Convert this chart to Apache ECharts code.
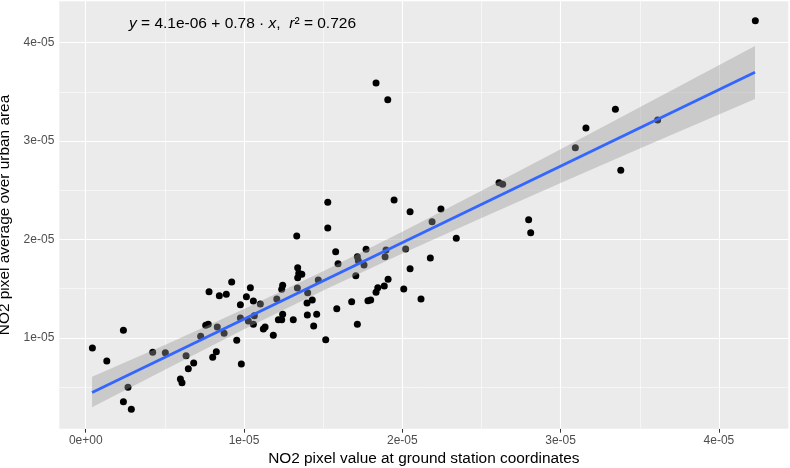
<!DOCTYPE html>
<html>
<head>
<meta charset="utf-8">
<script src="https://cdn.jsdelivr.net/npm/echarts@6/dist/echarts.min.js"></script>
<style>
  html, body { margin: 0; padding: 0; background: #fff; }
  #chart { width: 790px; height: 468px; }
</style>
</head>
<body>
<div id="chart"></div>
<script>
// every value below is in units of 1e-05
const stationNO2 = [
  0.042, 0.133, 0.238, 0.267, 0.238, 0.288, 0.423, 0.503, 0.598, 0.608,
  0.634, 0.648, 0.682, 0.726, 0.758, 0.774, 0.779, 0.802, 0.825, 0.831,
  0.844, 0.874, 0.888, 0.922, 0.954, 0.977, 0.977, 0.983, 1.015, 1.027,
  1.040, 1.059, 1.059, 1.065, 1.103, 1.122, 1.133, 1.185, 1.207, 1.217,
  1.238, 1.244, 1.238, 1.244, 1.311, 1.333, 1.339, 1.339, 1.346, 1.365,
  1.337, 1.398, 1.402, 1.400, 1.431, 1.440, 1.459, 1.469, 1.516, 1.529,
  1.579, 1.586, 1.594, 1.680, 1.706, 1.716, 1.716, 1.722, 1.758, 1.771,
  1.783, 1.800, 1.834, 1.845, 1.886, 1.891, 1.897, 1.910, 1.948, 2.049,
  2.244, 2.188, 2.341, 2.021, 2.177, 2.049, 2.009, 2.118, 1.834, 1.908,
  1.529, 4.230, 3.346, 3.160, 3.093, 3.613, 3.380, 2.611, 2.634, 2.798,
  2.811
];
const urbanNO2 = [
  0.898, 0.766, 1.078, 0.499, 0.353, 0.275, 0.854, 0.850, 0.583, 0.546,
  0.820, 0.688, 0.746, 1.017, 1.129, 1.139, 1.470, 0.804, 0.861, 1.111,
  1.429, 1.047, 1.444, 1.569, 0.976, 1.338, 1.203, 0.736, 1.419, 1.172,
  1.511, 1.139, 1.376, 1.226, 1.345, 1.091, 1.111, 1.027, 1.396, 1.186,
  1.186, 1.240, 1.494, 1.535, 1.186, 2.036, 1.612, 1.714, 1.657, 1.647,
  1.508, 1.355, 1.460, 1.233, 1.386, 1.122, 1.240, 1.589, 0.982, 2.117,
  1.876, 1.297, 1.755, 1.368, 1.633, 1.139, 1.826, 1.785, 1.741, 1.901,
  1.379, 1.386, 1.464, 1.511, 1.528, 1.826, 1.894, 1.596, 2.402, 2.283,
  2.310, 2.181, 2.013, 1.904, 1.812, 1.704, 1.498, 1.396, 3.590, 3.421,
  2.378, 4.223, 3.323, 3.133, 2.933, 3.214, 2.703, 2.577, 2.561, 2.202,
  2.069
];

// fitted line end points and its confidence band
const fitX = [0.04, 4.228];
const fitY = [0.445, 3.70];
const bandX = [0.04, 0.5, 1.0, 1.5, 2.0, 2.5, 3.0, 3.5, 4.228];
const bandLow = [0.296, 0.676, 1.088, 1.482, 1.857, 2.219, 2.573, 2.924, 3.428];
const bandHigh = [0.607, 0.928, 1.294, 1.678, 2.079, 2.495, 2.917, 3.344, 3.966];

const xTicks = [0, 1, 2, 3, 4];
const yTicks = [1, 2, 3, 4];
const xMinor = [0.5, 1.5, 2.5, 3.5];
const yMinor = [0.5, 1.5, 2.5, 3.5];

const FONT = 'Liberation Sans, Arial, sans-serif';

function tickLabel(v) {
  return v === 0 ? '0e+00' : v + 'e-05';
}

function gridLines() {
  const major = { color: '#ffffff', width: 1.1, type: 'solid' };
  const minor = { color: '#ffffff', width: 0.55, type: 'solid' };
  return [
    ...xMinor.map((v) => ({ xAxis: v, lineStyle: minor })),
    ...yMinor.map((v) => ({ yAxis: v, lineStyle: minor })),
    ...xTicks.map((v) => ({ xAxis: v, lineStyle: major })),
    ...yTicks.map((v) => ({ yAxis: v, lineStyle: major })),
  ];
}

const chart = echarts.init(document.getElementById('chart'));

chart.setOption({
  animation: false,
  backgroundColor: '#ffffff',
  textStyle: { fontFamily: FONT },
  title: {
    left: 129,
    top: 16,
    padding: 0,
    text: '{i|y} = 4.1e-06 + 0.78 · {i|x},  {i|r}² = 0.726',
    textStyle: {
      fontFamily: FONT,
      fontSize: 15.5,
      fontWeight: 'normal',
      color: '#000',
      rich: {
        i: { fontFamily: FONT, fontSize: 15.5, fontStyle: 'italic', color: '#000' },
      },
    },
  },
  grid: {
    left: 59.3,
    right: 1.6,
    top: 1.3,
    bottom: 39.3,
    outerBoundsMode: 'none',
    containLabel: false,
    show: true,
    backgroundColor: '#EBEBEB',
    borderWidth: 0,
  },
  xAxis: {
    type: 'value',
    min: -0.167,
    max: 4.439,
    name: 'NO2 pixel value at ground station coordinates',
    nameLocation: 'middle',
    nameGap: 23,
    nameTextStyle: { fontFamily: FONT, fontSize: 15.4, color: '#000' },
    axisLine: { show: false },
    axisTick: { show: true, customValues: xTicks, length: 4, lineStyle: { color: '#333', width: 1 } },
    axisLabel: { customValues: xTicks, formatter: tickLabel, color: '#4D4D4D', fontSize: 12, margin: 6 },
    splitLine: { show: false },
  },
  yAxis: {
    type: 'value',
    min: 0.078,
    max: 4.42,
    name: 'NO2 pixel average over urban area',
    nameLocation: 'middle',
    nameGap: 43,
    nameTextStyle: { fontFamily: FONT, fontSize: 15.4, color: '#000' },
    axisLine: { show: false },
    axisTick: { show: true, customValues: yTicks, length: 4, lineStyle: { color: '#333', width: 1 } },
    axisLabel: { customValues: yTicks, formatter: tickLabel, color: '#4D4D4D', fontSize: 12, margin: 5 },
    splitLine: { show: false },
  },
  series: [
    {
      name: 'grid',
      type: 'scatter',
      data: [],
      z: 1,
      silent: true,
      markLine: {
        z: 1,
        silent: true,
        symbol: 'none',
        label: { show: false },
        emphasis: { disabled: true },
        data: gridLines(),
      },
    },
    {
      name: 'points',
      type: 'scatter',
      z: 2,
      symbol: 'circle',
      symbolSize: 7,
      itemStyle: { color: '#000000', opacity: 1 },
      data: stationNO2.map((x, i) => [x, urbanNO2[i]]),
    },
    {
      name: 'band',
      type: 'custom',
      z: 3,
      silent: true,
      data: [[bandX[0], bandLow[0]]],
      renderItem: (params, api) => {
        const upper = bandX.map((x, i) => api.coord([x, bandHigh[i]]));
        const lower = bandX.map((x, i) => api.coord([x, bandLow[i]])).reverse();
        return {
          type: 'polygon',
          shape: { points: upper.concat(lower) },
          style: { fill: 'rgba(153,153,153,0.4)', stroke: null },
        };
      },
    },
    {
      name: 'fit',
      type: 'line',
      z: 4,
      silent: true,
      symbol: 'none',
      lineStyle: { color: '#3366FF', width: 2.8 },
      data: fitX.map((x, i) => [x, fitY[i]]),
    },
  ],
});
</script>
</body>
</html>
